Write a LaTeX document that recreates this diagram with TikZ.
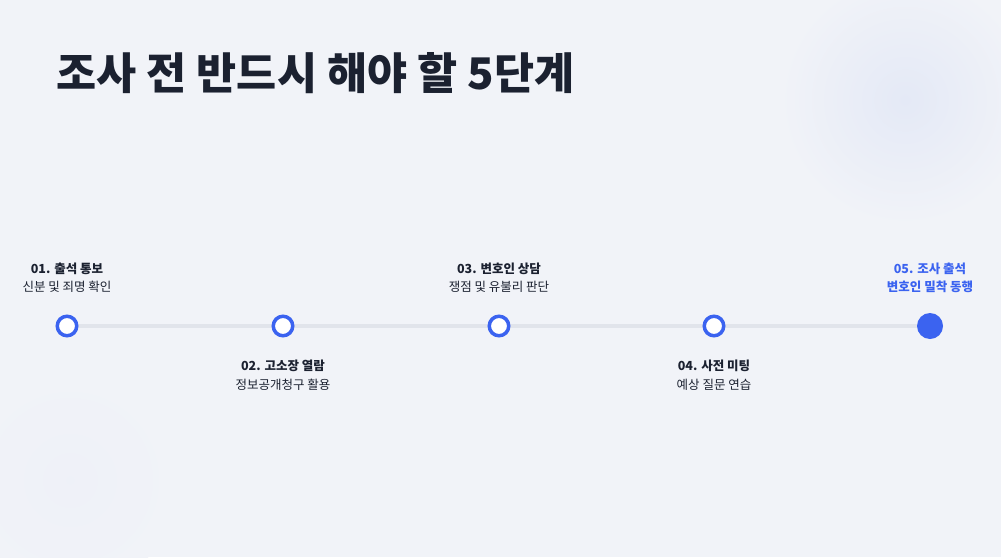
\documentclass[tikz,border=0pt]{standalone}
\usepackage{fontspec}
\usepackage{xcolor}
\usepackage{tikz}
\setmainfont{Noto Sans CJK KR}
\definecolor{paper}{HTML}{F1F3F8}
\definecolor{haze}{HTML}{E4E9F6}
\definecolor{accent}{HTML}{3B63F0}
\definecolor{ink}{HTML}{1B2130}
\definecolor{rail}{HTML}{E1E4EB}
\tikzset{
	ring/.style={circle, draw=accent, line width=3.5pt, fill=white, minimum size=19.5pt, inner sep=0pt},
	lastring/.style={circle, fill=accent, minimum size=26pt, inner sep=0pt},
	steptitle/.style={font=\fontsize{12.5}{15}\selectfont\bfseries, text=ink},
	stepnote/.style={font=\fontsize{12.5}{15}\selectfont, text=ink},
}

\begin{document}
\begin{tikzpicture}[x=1pt,y=-1pt]
			\useasboundingbox (0,0) rectangle (1001,557);
			\begin{scope}
				\clip (0,0) rectangle (1001,557);
				\fill[paper] (0,0) rectangle (1001,557);
				\shade[inner color=haze, outer color=paper] (905,100) circle (125);
				\shade[inner color=paper!80!haze, outer color=paper] (70,480) circle (110);
			\end{scope}
			\node[anchor=base west, font=\fontsize{43.6}{50}\selectfont\bfseries, text=ink] (head) at (53,89) {조사 전 반드시 해야 할 5단계};
			\coordinate (p1) at (67,326);
			\coordinate (p5) at (930,326);
			\draw[rail, line width=3.5pt] (p1) -- (p5);
			\node[ring] (s1) at (67,326) {};
			\node[ring] (s2) at (283,326) {};
			\node[ring] (s3) at (499,326) {};
			\node[ring] (s4) at (714,326) {};
			\node[lastring] (s5) at (p5) {};
			\node[steptitle] (t1) at (67,269) {01. 출석 통보};
			\node[stepnote] (n1) at (67,287) {신분 및 죄명 확인};
			\node[steptitle] (t2) at (283,366) {02. 고소장 열람};
			\node[stepnote] (n2) at (283,385) {정보공개청구 활용};
			\node[steptitle] (t3) at (499,269) {03. 변호인 상담};
			\node[stepnote] (n3) at (499,287) {쟁점 및 유불리 판단};
			\node[steptitle] (t4) at (714,366) {04. 사전 미팅};
			\node[stepnote] (n4) at (714,385) {예상 질문 연습};
			\node[steptitle, text=accent] (t5) at (930,269) {05. 조사 출석};
			\node[steptitle, text=accent] (n5) at (930,287) {변호인 밀착 동행};
		\end{tikzpicture}
\end{document}
